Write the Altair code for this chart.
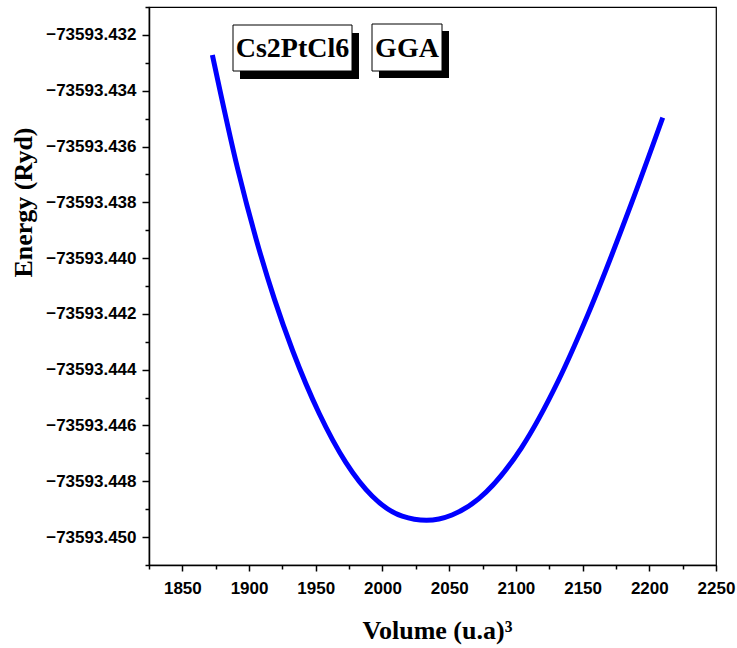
import altair as alt
import pandas as pd

# Data
volume = [1872.5, 1891.6, 1905.4, 1919.0, 1932.7, 1952.6, 1972.5, 1992.4, 2014.8,
          2033.0, 2052.1, 2072.0, 2104.3, 2131.7, 2154.1, 2186.4, 2210.1]
energy = [-73593.432717, -73593.436824, -73593.439336, -73593.441471, -73593.443321,
          -73593.445570, -73593.447321, -73593.448535, -73593.449252, -73593.449398,
          -73593.449207, -73593.448630, -73593.446789, -73593.444405, -73593.442008,
          -73593.438067, -73593.434962]

x_ticks = [1825 + 25 * i for i in range(18)]          # 1825 .. 2250 (major every 50)
y_ticks = [round(-73593.451 + 0.001 * i, 3) for i in range(21)]  # major every 0.002
labels = ["Cs2PtCl6", "GGA"]

df = pd.DataFrame({"volume": volume, "energy": energy})

x_axis = alt.Axis(
    values=x_ticks,
    title="Volume (u.a)³",
    labelExpr="datum.value % 50 === 0 ? format(datum.value, 'd') : ''",
    labelOverlap=False, labelFlush=False,
    tickSize={"condition": {"test": "datum.value % 50 === 0", "value": 6}, "value": 4},
    labelFont="Liberation Sans", labelFontSize=17, labelFontWeight="bold",
    labelColor="#000", labelPadding=9,
    titleFont="Liberation Serif", titleFontSize=26, titleFontWeight="bold",
    titleColor="#000", titleAlign="center", titleBaseline="middle", titleX=288, titleY=65,
    domainColor="#000", domainWidth=1.5, tickColor="#000", tickWidth=1.5,
    grid=False,
)

y_axis = alt.Axis(
    values=y_ticks,
    title="Energy  (Ryd)",
    labelExpr="abs(round(datum.value*1000)) % 2 === 0 ? format(datum.value, '.3f') : ''",
    labelOverlap=False, labelFlush=False,
    tickSize={"condition": {"test": "abs(round(datum.value*1000)) % 2 === 0", "value": 7}, "value": 4},
    labelFont="Liberation Sans", labelFontSize=17, labelFontWeight="bold",
    labelColor="#000", labelPadding=6,
    titleFont="Liberation Serif", titleFontSize=26, titleFontWeight="bold",
    titleColor="#000", titleAngle=270, titleAlign="center", titleBaseline="middle",
    titleX=-126, titleY=195,
    domainColor="#000", domainWidth=1.5, tickColor="#000", tickWidth=1.5,
    grid=False,
)

line = alt.Chart(df).mark_line(color="#0000FF", strokeWidth=5, interpolate="monotone").encode(
    x=alt.X("volume:Q", scale=alt.Scale(domain=[1825, 2250], nice=False, zero=False), axis=x_axis),
    y=alt.Y("energy:Q", scale=alt.Scale(domain=[-73593.451, -73593.431], nice=False, zero=False), axis=y_axis),
)

def box(label, x0, x1, y0, y1, dx, dy):
    d = pd.DataFrame({"label": [label]})
    shadow = alt.Chart(d).mark_rect(color="#000").encode(
        x=alt.value(x0 + dx), x2=alt.value(x1 + dx), y=alt.value(y0 + dy), y2=alt.value(y1 + dy))
    face = alt.Chart(d).mark_rect(fill="#fff", stroke="#000", strokeWidth=1).encode(
        x=alt.value(x0), x2=alt.value(x1), y=alt.value(y0), y2=alt.value(y1))
    text = alt.Chart(d).mark_text(font="Liberation Serif", fontSize=28, fontWeight="bold",
                                  color="#000", align="center", baseline="middle").encode(
        x=alt.value((x0 + x1) / 2), y=alt.value((y0 + y1) / 2 + 1), text="label:N")
    return shadow + face + text

chart = alt.layer(
    line,
    box(labels[0], 84, 203, 18, 64, 7, 8),
    box(labels[1], 223, 293, 17, 64, 7, 7),
).properties(
    width=567, height=558,
    autosize=alt.AutoSizeParams(type="none"),
    padding={"left": 149, "top": 7, "right": 21, "bottom": 83},
).configure(background="#fff").configure_view(stroke="#000", strokeWidth=1.2)

chart.save("out.html", embed_options={"renderer": "svg", "actions": False})
